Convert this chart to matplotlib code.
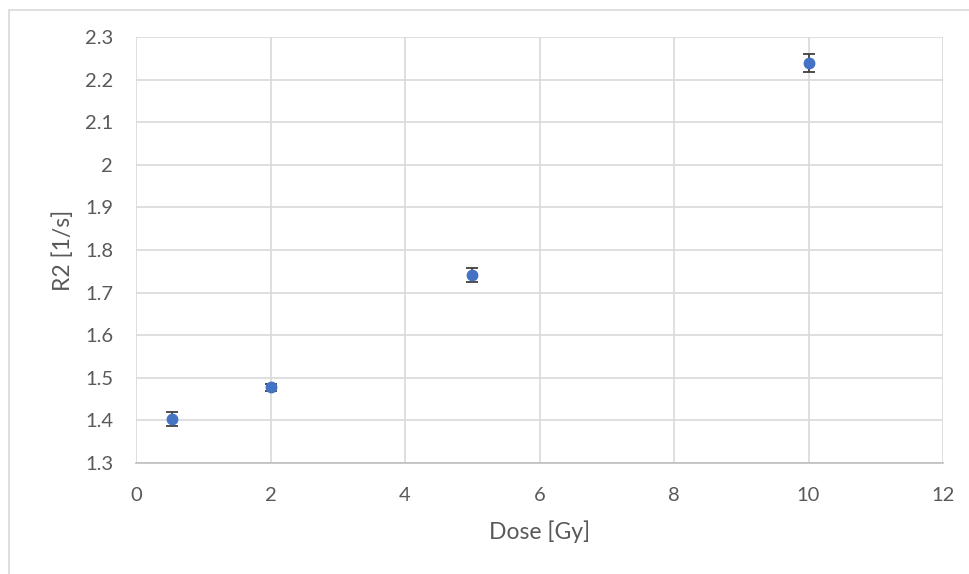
import matplotlib
matplotlib.use("Agg")
import matplotlib.pyplot as plt
from matplotlib.patches import Rectangle

# data
dose = [0.53, 2.0, 5.0, 10.0]
r2 = [1.403, 1.478, 1.742, 2.240]
r2_err = [0.016, 0.008, 0.016, 0.021]

x_ticks = [0, 2, 4, 6, 8, 10, 12]
y_ticks = [1.3, 1.4, 1.5, 1.6, 1.7, 1.8, 1.9, 2.0, 2.1, 2.2, 2.3]
y_labels = ["1.3", "1.4", "1.5", "1.6", "1.7", "1.8", "1.9", "2", "2.1", "2.2", "2.3"]


def main():
    plt.rcParams["font.family"] = ["Lato", "DejaVu Sans"]
    text_col = "#595959"
    grid_col = "#d9d9d9"

    W, H = 970, 574
    fig = plt.figure(figsize=(W / 100, H / 100), dpi=100)
    ax = fig.add_axes([136 / W, 1 - 463 / H, (943 - 136) / W, (463 - 37) / H])

    # outer chart frame (cropped on the right and bottom)
    fig.patches.append(Rectangle((9 / W, -0.1), 1.2, 1 - 10 / H + 0.1,
                                 transform=fig.transFigure, fill=False,
                                 edgecolor="#d9d9d9", linewidth=1.2))

    ax.errorbar(dose, r2, yerr=r2_err, fmt="o", color="#4472c4",
                markersize=7.5, ecolor="#404040", elinewidth=1.3,
                capsize=4.5, capthick=1.3, zorder=5)

    ax.set_xlim(0, 12)
    ax.set_ylim(1.3, 2.3)
    ax.set_xticks(x_ticks)
    ax.set_yticks(y_ticks)
    ax.set_yticklabels(y_labels)
    ax.grid(True, color=grid_col, linewidth=1.2)
    ax.set_axisbelow(True)
    for s in ["top", "right", "left"]:
        ax.spines[s].set_visible(False)
    ax.spines["bottom"].set_color("#bfbfbf")
    ax.spines["bottom"].set_linewidth(1.2)
    ax.tick_params(length=0, labelsize=14.5, colors=text_col)
    ax.tick_params(axis="x", pad=17)
    ax.tick_params(axis="y", pad=16.5)

    ax.set_xlabel("Dose [Gy]", fontsize=16.5, color=text_col, labelpad=12)
    ax.set_ylabel("R2 [1/s]", fontsize=16.5, color=text_col, labelpad=8)

    fig.savefig("out.png", dpi=100)


if __name__ == "__main__":
    main()
